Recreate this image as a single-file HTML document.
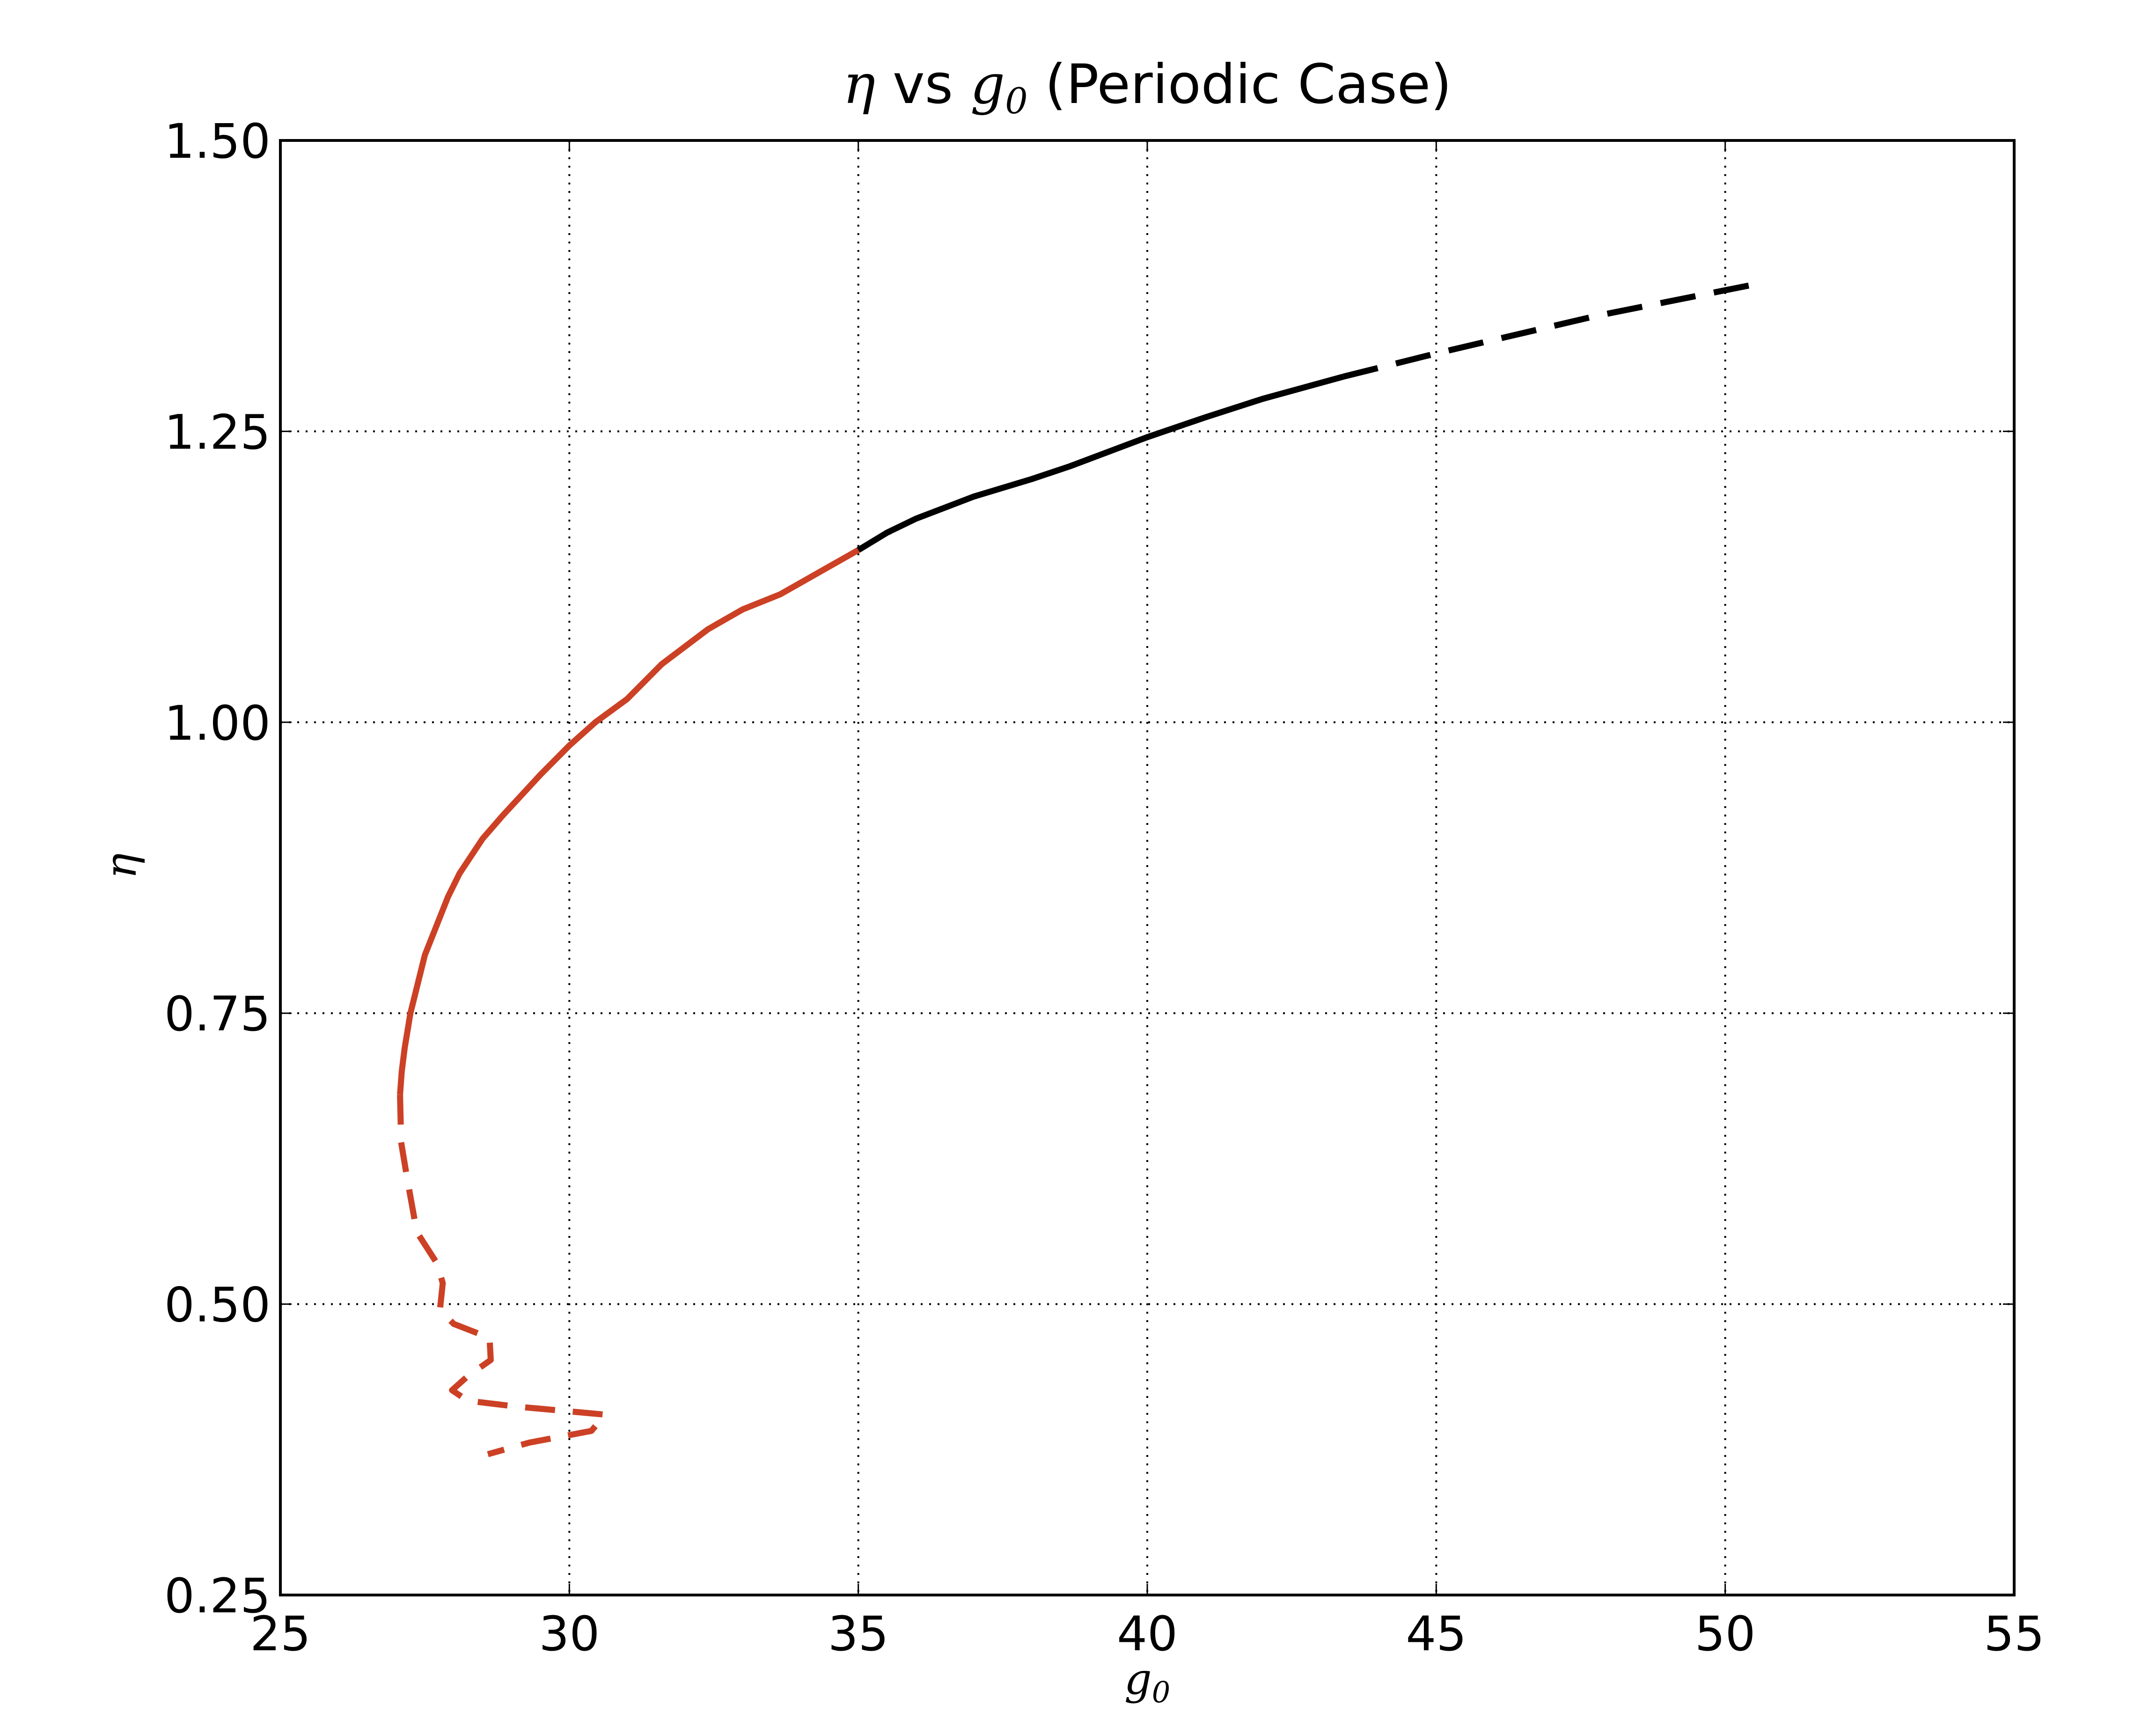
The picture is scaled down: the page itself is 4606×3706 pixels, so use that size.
<!DOCTYPE html>
<html><head><meta charset="utf-8"><style>
html,body{margin:0;padding:0;background:#fff}
svg{display:block}
text{font-family:"DejaVu Sans","Liberation Sans",sans-serif;fill:#000}
.m{font-family:"DejaVu Serif","Liberation Serif",serif;font-style:italic}
</style></head><body>
<svg id="chart" width="4606" height="3706" viewBox="0 0 4606 3706" xmlns="http://www.w3.org/2000/svg">
<text x="2451" y="220" font-size="116" text-anchor="middle"><tspan class="m">η</tspan> vs <tspan class="m">g</tspan><tspan class="m" font-size="76" dy="22">0</tspan><tspan dy="-22"> (Periodic Case)</tspan></text>
<text x="2451" y="3618" font-size="92" text-anchor="middle"><tspan class="m">g</tspan><tspan class="m" font-size="62" dy="18">0</tspan></text>
<text class="m" x="0" y="0" font-size="92" text-anchor="middle" transform="translate(290,1850) rotate(-90)">η</text>
<g id="grid"></g>
<g id="series"></g>
<rect x="599" y="300" width="3704" height="3107" fill="none" stroke="#000" stroke-width="6"/>
<g id="ticks"></g>
</svg>
<script>
const xTicks=[25,30,35,40,45,50,55];
const yTicks=[0.25,0.50,0.75,1.00,1.25,1.50];
const xTickLabels=["25","30","35","40","45","50","55"];
const yTickLabels=["0.25","0.50","0.75","1.00","1.25","1.50"];
const redSolidG=[27.07,27.1,27.15,27.25,27.5,27.9,28.1,28.5,28.85,29.5,30.0,30.45,31.0,31.6,32.4,33.0,33.65,35.0];
const redSolidEta=[0.68,0.70,0.72,0.75,0.80,0.85,0.87,0.90,0.92,0.955,0.98,1.00,1.02,1.05,1.08,1.097,1.11,1.148];
const redDashG=[27.07,27.09,27.19,27.36,27.71,27.81,27.76,28.0,28.62,28.64,28.24,27.97,28.24,29.07,30.62,30.38,29.31,28.59];
const redDashEta=[0.68,0.639,0.609,0.562,0.535,0.518,0.495,0.483,0.471,0.452,0.438,0.426,0.417,0.412,0.405,0.391,0.381,0.371];
const blackSolidG=[35.0,35.5,36.0,37.0,38.0,38.66,40.0,41.0,42.0,43.39];
const blackSolidEta=[1.148,1.163,1.175,1.194,1.209,1.22,1.245,1.262,1.278,1.297];
const blackDashG=[43.39,45.0,47.75,50.58];
const blackDashEta=[1.297,1.317,1.349,1.377];

const L=599,R=4303,T=300,B=3407;
function xs(g){return L+(g-25)/30*(R-L);}
function ys(e){return B-(e-0.25)/1.25*(B-T);}
const NS="http://www.w3.org/2000/svg";
function mk(tag,parent){const e=document.createElementNS(NS,tag);parent.appendChild(e);return e;}
const grid=document.getElementById('grid'),ticks=document.getElementById('ticks'),ser=document.getElementById('series');
xTicks.forEach((v,i)=>{
  const x=xs(v);
  if(i>0&&i<xTicks.length-1){const l=mk('line',grid);
    
    
    l.setAttribute('x1',x);l.setAttribute('x2',x);l.setAttribute('y1',T);l.setAttribute('y2',B);
    l.setAttribute('stroke','#000');l.setAttribute('stroke-width','4');l.setAttribute('stroke-dasharray','4 14');}
  [[B,B-24],[T,T+24]].forEach(p=>{const t=mk('line',ticks);
    
    
    t.setAttribute('x1',x);t.setAttribute('x2',x);t.setAttribute('y1',p[0]);t.setAttribute('y2',p[1]);t.setAttribute('stroke','#000');t.setAttribute('stroke-width','3');});
  const tx=mk('text',ticks);
  
  
  tx.setAttribute('x',x);tx.setAttribute('y',3525);tx.setAttribute('font-size','102');tx.setAttribute('text-anchor','middle');tx.textContent=xTickLabels[i];
});
yTicks.forEach((v,i)=>{
  const y=ys(v);
  if(i>0&&i<yTicks.length-1){const l=mk('line',grid);
    
    
    l.setAttribute('x1',L);l.setAttribute('x2',R);l.setAttribute('y1',y);l.setAttribute('y2',y);
    l.setAttribute('stroke','#000');l.setAttribute('stroke-width','4');l.setAttribute('stroke-dasharray','4 14');}
  [[L,L+24],[R,R-24]].forEach(p=>{const t=mk('line',ticks);
    
    
    t.setAttribute('x1',p[0]);t.setAttribute('x2',p[1]);t.setAttribute('y1',y);t.setAttribute('y2',y);t.setAttribute('stroke','#000');t.setAttribute('stroke-width','3');});
  const tx=mk('text',ticks);
  
  
  tx.setAttribute('x',578);tx.setAttribute('y',y+37);tx.setAttribute('font-size','102');tx.setAttribute('text-anchor','end');tx.textContent=yTickLabels[i];
});
function line(gs,es,color,dash,name){
  const p=mk('polyline',ser);
  
  
  p.setAttribute('points',gs.map((g,i)=>xs(g).toFixed(1)+','+ys(es[i]).toFixed(1)).join(' '));
  p.setAttribute('fill','none');p.setAttribute('stroke',color);p.setAttribute('stroke-width','13');
  p.setAttribute('stroke-linejoin','round');
  if(dash)p.setAttribute('stroke-dasharray',dash);
}
line(redDashG,redDashEta,'#cc4125','64 38','red-dashed-branch');
line(redSolidG,redSolidEta,'#cc4125',null,'red-solid-branch');
line(blackSolidG,blackSolidEta,'#000',null,'black-solid-branch');
line(blackDashG,blackDashEta,'#000','76 40','black-dashed-branch');
</script>
</body></html>
